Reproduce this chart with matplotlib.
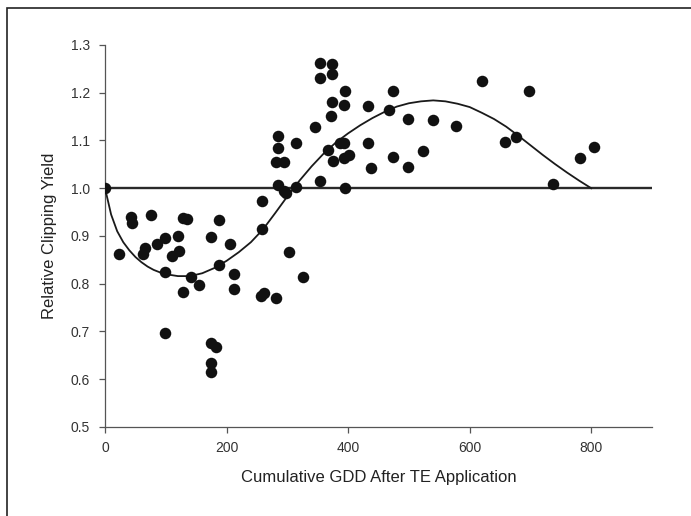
import numpy as np
import matplotlib.pyplot as plt
from matplotlib.patches import Rectangle

plt.rcParams['font.family'] = ['Liberation Sans', 'DejaVu Sans']

# observed relative clipping yield vs cumulative GDD
gdd = [0, 23, 43, 45, 63, 65, 76, 85, 98, 99, 99, 110, 120, 121, 128, 128,
       135, 141, 154, 174, 174, 174, 174, 182, 187, 187, 205, 212, 213, 256,
       259, 259, 262, 281, 281, 284, 285, 285, 295, 295, 298, 303, 314, 314,
       325, 345, 353, 353, 353, 367, 371, 373, 373, 373, 375, 387, 394, 394,
       394, 395, 395, 402, 432, 432, 438, 468, 474, 474, 498, 498, 523, 540,
       577, 620, 658, 676, 697, 737, 781, 804]
rel_yield = [1.000, 0.862, 0.940, 0.928, 0.862, 0.874, 0.943, 0.883, 0.825,
             0.895, 0.696, 0.858, 0.899, 0.869, 0.938, 0.783, 0.935, 0.814,
             0.798, 0.897, 0.675, 0.635, 0.616, 0.668, 0.934, 0.839, 0.883,
             0.790, 0.820, 0.774, 0.974, 0.914, 0.781, 0.770, 1.054, 1.007,
             1.110, 1.085, 1.054, 0.995, 0.990, 0.867, 1.094, 1.002, 0.814,
             1.128, 1.263, 1.230, 1.016, 1.080, 1.151, 1.260, 1.239, 1.181,
             1.058, 1.094, 1.174, 1.095, 1.063, 1.204, 1.000, 1.070, 1.172,
             1.094, 1.042, 1.164, 1.204, 1.065, 1.144, 1.045, 1.077, 1.143,
             1.130, 1.225, 1.096, 1.107, 1.204, 1.008, 1.064, 1.086]

# fitted curve
fit_x = [0, 10, 20, 30, 40, 50, 60, 70, 80, 90, 100, 120, 140, 160, 180, 200,
         220, 240, 260, 280, 300, 320, 340, 360, 380, 400, 420, 440, 460, 480,
         500, 520, 540, 560, 580, 600, 620, 640, 660, 680, 700, 720, 740, 760,
         780, 800]
fit_y = [1.000, 0.945, 0.910, 0.887, 0.870, 0.856, 0.845, 0.836, 0.829, 0.824,
         0.820, 0.816, 0.816, 0.822, 0.833, 0.848, 0.866, 0.887, 0.914, 0.948,
         0.983, 1.016, 1.046, 1.073, 1.096, 1.115, 1.132, 1.147, 1.160, 1.171,
         1.178, 1.182, 1.184, 1.182, 1.177, 1.170, 1.158, 1.145, 1.129, 1.110,
         1.090, 1.070, 1.051, 1.033, 1.016, 1.000]

fig = plt.figure(figsize=(6.91, 5.16), dpi=100)
ax = fig.add_axes([0.152, 0.1725, 0.7916, 0.7403])

ax.axhline(1.0, color='#2a2a2a', lw=1.7, zorder=2)
ax.plot(fit_x, fit_y, color='#1a1a1a', lw=1.3, zorder=3)
ax.plot(gdd, rel_yield, 'o', color='#111111', ms=8.3, mew=0, zorder=4)

ax.set_xlim(0, 900)
ax.set_ylim(0.5, 1.3)
ax.set_xticks([0, 200, 400, 600, 800])
ax.set_yticks(np.arange(0.5, 1.31, 0.1))
ax.yaxis.set_major_formatter(plt.FormatStrFormatter('%.1f'))
ax.spines['top'].set_visible(False)
ax.spines['right'].set_visible(False)
for s in ['left', 'bottom']:
    ax.spines[s].set_color('#555555')
    ax.spines[s].set_linewidth(0.9)
ax.tick_params(direction='out', length=4, width=0.9, color='#555555',
               labelsize=10, labelcolor='#333333')
ax.tick_params(axis='y', pad=7)
ax.tick_params(axis='x', pad=6)

ax.set_xlabel('Cumulative GDD After TE Application', fontsize=12,
              color='#222222', labelpad=11)
ax.set_ylabel('Relative Clipping Yield', fontsize=12, color='#222222',
              labelpad=10)

# outer border (cropped on the right and bottom)
fig.patches.append(Rectangle((7 / 691, -0.1), 1.2, (508 / 516) + 0.1,
                             transform=fig.transFigure, fill=False,
                             edgecolor='#222222', lw=1.2))

fig.savefig('out.png', dpi=100)
